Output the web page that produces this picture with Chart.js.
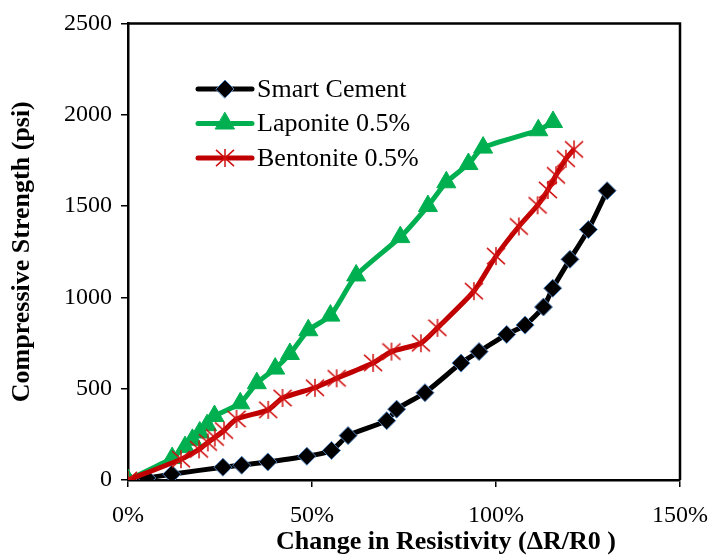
<!DOCTYPE html>
<html>
<head>
<meta charset="utf-8">
<script src="https://cdn.jsdelivr.net/npm/chart.js@4.4.1/dist/chart.umd.min.js"></script>
<style>
  body { margin: 0; background: #fff; }
</style>
</head>
<body>
<canvas id="strengthChart" width="725" height="555"></canvas>
<script>
// change in resistivity (%) and compressive strength (psi)
const smartX = [0, 5.1, 11.9, 25.8, 30.9, 38, 48.6, 55.3, 59.8, 70.3, 73, 80.7, 90.5, 95.4, 102.9, 107.9, 112.9, 115.4, 120.1, 125.1, 130.2];
const smartY = [0, 11, 32, 70, 81, 99, 130, 162, 243, 325, 388, 478, 640, 703, 797, 848, 947, 1050, 1208, 1371, 1584];

const lapX = [0, 12, 15.5, 17.5, 19.5, 21.5, 23.5, 30.5, 35, 40, 44, 49, 55, 62, 74, 81.5, 86.5, 92.5, 96.5, 111.5, 115.5];
const lapY = [0, 120, 180, 220, 260, 300, 350, 420, 530, 610, 690, 820, 900, 1120, 1330, 1500, 1630, 1730, 1820, 1915, 1960];

const benX = [0, 14.4, 19.3, 21.7, 23.6, 26.1, 29.5, 38.1, 42, 50.8, 56.7, 66.6, 71.6, 79.6, 84.1, 94, 100, 106.2, 111.3, 114.1, 116.3, 119, 121.2];
const benY = [0, 114, 168, 206, 233, 271, 334, 384, 449, 505, 557, 641, 703, 749, 833, 1034, 1226, 1388, 1504, 1588, 1668, 1759, 1810];

const xTicks = [0, 50, 100, 150];
const yTicks = [0, 500, 1000, 1500, 2000, 2500];

const xTitle = 'Change in Resistivity (ΔR/R0 )';

function toPoints(xs, ys) {
  return xs.map((x, i) => ({ x: x, y: ys[i] }));
}

// excel style asterisk: vertical bar plus an X
function makeAsterisk(size, color) {
  const c = document.createElement('canvas');
  c.width = size;
  c.height = size;
  const g = c.getContext('2d');
  const m = size / 2, r = size / 2 - 1;
  g.strokeStyle = color;
  g.lineWidth = 1.5;
  g.beginPath();
  g.moveTo(m, m - r); g.lineTo(m, m + r);
  g.moveTo(m - r, m - r * 0.9); g.lineTo(m + r, m + r * 0.9);
  g.moveTo(m + r, m - r * 0.9); g.lineTo(m - r, m + r * 0.9);
  g.stroke();
  return c;
}

const serif = '"Liberation Serif", "Times New Roman", serif';

// box on top/right, legend inside the plot, x title set off to the right like the original
const frameLegend = {
  id: 'frameLegend',
  afterDatasetsDraw(chart) {
    const ctx = chart.ctx;
    const a = chart.chartArea;
    ctx.save();
    ctx.strokeStyle = '#000';
    ctx.lineWidth = 2.5;
    ctx.beginPath();
    ctx.moveTo(a.left, a.top);
    ctx.lineTo(a.right, a.top);
    ctx.lineTo(a.right, a.bottom);
    ctx.stroke();

    chart.data.datasets.forEach((ds, i) => {
      const y = 89 + i * 34.5;
      ctx.strokeStyle = ds.borderColor;
      ctx.lineWidth = ds.borderWidth;
      ctx.lineCap = 'round';
      ctx.beginPath();
      ctx.moveTo(198, y);
      ctx.lineTo(252, y);
      ctx.stroke();
      ctx.fillStyle = ds.pointBackgroundColor;
      ctx.strokeStyle = ds.pointBorderColor;
      ctx.lineWidth = ds.pointBorderWidth;
      Chart.helpers.drawPoint(ctx, {
        pointStyle: ds.pointStyle,
        radius: ds.pointRadius,
        borderWidth: ds.pointBorderWidth,
        rotation: 0
      }, 225, y);
      ctx.fillStyle = '#000';
      ctx.font = '26px ' + serif;
      ctx.textAlign = 'left';
      ctx.textBaseline = 'middle';
      ctx.fillText(ds.label, 257, y + 1);
    });

    ctx.fillStyle = '#000';
    ctx.font = 'bold 26px ' + serif;
    ctx.textAlign = 'center';
    ctx.textBaseline = 'middle';
    ctx.fillText(xTitle, 446, 542);
    ctx.restore();
  }
};

const ctx = document.getElementById('strengthChart').getContext('2d');

new Chart(ctx, {
  type: 'line',
  data: {
    datasets: [{
      label: 'Smart Cement',
      data: toPoints(smartX, smartY),
      borderColor: '#000000',
      borderWidth: 5,
      pointStyle: 'rectRot',
      pointRadius: 9,
      pointBackgroundColor: '#000000',
      pointBorderColor: '#4f81bd',
      pointBorderWidth: 1,
      tension: 0.2,
      order: 3
    }, {
      label: 'Laponite 0.5%',
      data: toPoints(lapX, lapY),
      borderColor: '#00b050',
      borderWidth: 5,
      pointStyle: 'triangle',
      pointRadius: 11,
      pointBackgroundColor: '#00b050',
      pointBorderColor: '#00b050',
      pointBorderWidth: 1,
      tension: 0.2,
      order: 2
    }, {
      label: 'Bentonite 0.5%',
      data: toPoints(benX, benY),
      borderColor: '#c00000',
      borderWidth: 5,
      pointStyle: makeAsterisk(20, '#d01010'),
      pointRadius: 9,
      pointBackgroundColor: '#c00000',
      pointBorderColor: '#c00000',
      pointBorderWidth: 1,
      tension: 0.2,
      order: 1
    }]
  },
  options: {
    responsive: false,
    animation: false,
    layout: { padding: { left: 5, right: 45, top: 18, bottom: 0 } },
    plugins: {
      legend: { display: false },
      tooltip: { enabled: false }
    },
    scales: {
      x: {
        type: 'linear',
        min: 0,
        max: 150,
        afterBuildTicks: s => { s.ticks = xTicks.map(v => ({ value: v })); },
        ticks: {
          callback: v => v + '%',
          color: '#000',
          font: { family: serif, size: 24 },
          padding: 14,
          maxRotation: 0
        },
        grid: { drawOnChartArea: false, color: '#000', tickLength: 7, lineWidth: 1.5 },
        border: { color: '#000', width: 2.5 },
        title: { display: false },
        afterFit: s => { s.height = 75; }
      },
      y: {
        min: 0,
        max: 2500,
        afterBuildTicks: s => { s.ticks = yTicks.map(v => ({ value: v })); },
        ticks: {
          callback: v => String(v),
          color: '#000',
          font: { family: serif, size: 24 },
          padding: 9
        },
        grid: { drawOnChartArea: false, color: '#000', tickLength: 7, lineWidth: 1.5 },
        border: { color: '#000', width: 2.5 },
        title: {
          display: true,
          text: 'Compressive Strength (psi)',
          color: '#000',
          font: { family: serif, size: 26, weight: 'bold', lineHeight: 1 },
          padding: { top: 4, bottom: 0 }
        },
        afterFit: s => { s.width = 123; }
      }
    }
  },
  plugins: [frameLegend]
});
</script>
</body>
</html>
